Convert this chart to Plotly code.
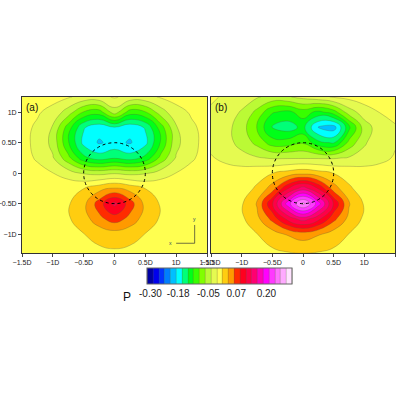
import plotly.graph_objects as go

x_vals = [-1.5, -1.25, -1.0, -0.75, -0.5, -0.25, 0.0, 0.25, 0.5, 0.75, 1.0, 1.25, 1.5]
y_vals = [1.25, 1.0, 0.75, 0.5, 0.25, 0.0, -0.25, -0.5, -0.75, -1.0, -1.32]

p_a = [
    [0, 0, -0.005, -0.01, -0.02, -0.02, -0.01, -0.02, -0.02, -0.01, -0.005, 0, 0],
    [-0.004, -0.01, -0.02, -0.05, -0.09, -0.1, -0.05, -0.1, -0.09, -0.05, -0.02, -0.01, -0.004],
    [-0.006, -0.016, -0.04, -0.1, -0.16, -0.18, -0.165, -0.18, -0.16, -0.1, -0.04, -0.016, -0.006],
    [-0.006, -0.018, -0.045, -0.11, -0.17, -0.19, -0.18, -0.19, -0.17, -0.11, -0.045, -0.018, -0.006],
    [-0.005, -0.015, -0.035, -0.08, -0.13, -0.15, -0.14, -0.15, -0.13, -0.08, -0.035, -0.015, -0.005],
    [-0.002, -0.006, -0.012, -0.025, -0.04, -0.045, -0.04, -0.045, -0.04, -0.025, -0.012, -0.006, -0.002],
    [0, 0.001, 0.003, 0.006, 0.012, 0.028, 0.04, 0.028, 0.012, 0.006, 0.003, 0.001, 0],
    [0, 0.002, 0.004, 0.01, 0.03, 0.075, 0.12, 0.075, 0.03, 0.01, 0.004, 0.002, 0],
    [0, 0.002, 0.004, 0.01, 0.025, 0.055, 0.075, 0.055, 0.025, 0.01, 0.004, 0.002, 0],
    [0, 0.001, 0.003, 0.006, 0.012, 0.02, 0.026, 0.02, 0.012, 0.006, 0.003, 0.001, 0],
    [0, 0, 0.002, 0.003, 0.005, 0.007, 0.008, 0.007, 0.005, 0.003, 0.002, 0, 0],
]

p_b = [
    [-0.01, -0.015, -0.025, -0.035, -0.045, -0.04, -0.03, -0.02, -0.01, -0.005, 0, 0, 0],
    [-0.015, -0.025, -0.04, -0.07, -0.11, -0.12, -0.1, -0.12, -0.1, -0.05, -0.025, -0.012, -0.005],
    [-0.02, -0.03, -0.05, -0.09, -0.14, -0.15, -0.13, -0.19, -0.2, -0.12, -0.05, -0.025, -0.015],
    [-0.02, -0.03, -0.045, -0.07, -0.1, -0.1, -0.09, -0.13, -0.14, -0.08, -0.04, -0.025, -0.015],
    [-0.01, -0.02, -0.03, -0.035, -0.04, -0.04, -0.04, -0.04, -0.04, -0.035, -0.03, -0.02, -0.01],
    [0, 0, 0.002, 0.006, 0.012, 0.022, 0.03, 0.022, 0.012, 0.006, 0.002, 0, 0],
    [0, 0.002, 0.005, 0.015, 0.05, 0.11, 0.15, 0.11, 0.05, 0.015, 0.005, 0.002, 0],
    [0, 0.003, 0.01, 0.04, 0.11, 0.2, 0.27, 0.2, 0.11, 0.04, 0.01, 0.003, 0],
    [0, 0.003, 0.008, 0.03, 0.07, 0.12, 0.15, 0.12, 0.07, 0.03, 0.008, 0.003, 0],
    [0, 0.002, 0.005, 0.012, 0.025, 0.04, 0.05, 0.04, 0.025, 0.012, 0.005, 0.002, 0],
    [0, 0.001, 0.002, 0.004, 0.007, 0.01, 0.012, 0.01, 0.007, 0.004, 0.002, 0.001, 0],
]

x_ticks = [-1.5, -1.0, -0.5, 0, 0.5, 1.0, 1.5]
x_labels = ["\u22121.5D", "\u22121D", "\u22120.5D", "0", "0.5D", "1D", "1.5D"]
y_ticks = [1.0, 0.5, 0, -0.5, -1.0]
y_labels = ["1D", "0.5D", "0", "\u22120.5D", "\u22121D"]
cb_ticks = [-0.30, -0.18, -0.05, 0.07, 0.20]
cb_labels = ["-0.30", "-0.18", "-0.05", "0.07", "0.20"]

cscale = [
    [0.0, "#000080"], [0.07, "#0000ff"], [0.15, "#0090ff"], [0.22, "#00ffff"],
    [0.25, "#00ff90"], [0.31, "#00ff00"], [0.38, "#80ff00"], [0.44, "#d8f850"],
    [0.5, "#ffff50"], [0.55, "#ffc000"], [0.60, "#ff8000"], [0.63, "#ff0000"],
    [0.74, "#ff0070"], [0.82, "#ff00ff"], [1.0, "#ffffff"],
]
zmin, zmax = -0.3125, 0.3125
contours = dict(start=zmin, end=zmax, size=0.025, coloring="fill")

L, R, T, B = 20, 2, 20, 20
W, H = 400 - L - R, 400 - T - B
def px(xp):
    return (xp - L) / W
def py(yp):
    return 1 - (yp - T) / H

fig = go.Figure()
for i, (z, show) in enumerate([(p_a, True), (p_b, False)]):
    fig.add_trace(go.Contour(
        x=x_vals, y=y_vals, z=z, xaxis="x" if i == 0 else "x2", yaxis="y" if i == 0 else "y2",
        colorscale=cscale, zmin=zmin, zmax=zmax, contours=contours,
        line=dict(color="rgba(90,90,60,0.6)", width=0.5, smoothing=1.3),
        showscale=show,
        colorbar=dict(orientation="h", x=px(220), xanchor="center", y=py(282), yanchor="middle",
                      len=145, lenmode="pixels", thickness=16, thicknessmode="pixels",
                      tickvals=cb_ticks, ticktext=cb_labels, ticks="", tickangle=0,
                      outlinecolor="#666", outlinewidth=1, xpad=0, ypad=0,
                      tickfont=dict(size=10, family="Liberation Sans", color="#222")),
    ))

ax = dict(range=[-1.5, 1.5], tickvals=x_ticks, ticktext=x_labels, ticks="outside", ticklen=3,
          showgrid=False, zeroline=False, showline=True, mirror=True, linecolor="#333", linewidth=1,
          tickfont=dict(size=7, family="Liberation Sans", color="#222"))
ay = dict(range=[-1.31, 1.25], showgrid=False, zeroline=False, showline=True, mirror=True,
          linecolor="#333", linewidth=1, tickfont=dict(size=7, family="Liberation Sans", color="#222"))
fig.update_layout(
    width=400, height=400, margin=dict(l=L, r=R, t=T, b=B, autoexpand=False),
    paper_bgcolor="white", plot_bgcolor="#ffff50", showlegend=False,
    xaxis=dict(ax, domain=[px(22), px(207)], anchor="y"),
    xaxis2=dict(ax, domain=[px(211), px(395)], anchor="y2"),
    yaxis=dict(ay, domain=[py(253), py(97)], anchor="x", tickvals=y_ticks, ticktext=y_labels,
               ticks="outside", ticklen=3),
    yaxis2=dict(ay, domain=[py(253), py(97)], anchor="x2", showticklabels=False),
)
for xr, yr in [("x", "y"), ("x2", "y2")]:
    fig.add_shape(type="circle", xref=xr, yref=yr, x0=-0.5, x1=0.5, y0=-0.5, y1=0.5,
                  line=dict(color="black", width=1, dash="dot"))
fig.add_shape(type="line", xref="x", yref="y", x0=1.0, x1=1.3, y0=-1.15, y1=-1.15, line=dict(color="#333", width=0.7))
fig.add_shape(type="line", xref="x", yref="y", x0=1.3, x1=1.3, y0=-1.15, y1=-0.85, line=dict(color="#333", width=0.7))
fig.add_annotation(xref="x", yref="y", x=0.97, y=-1.15, text="x", showarrow=False, font=dict(size=5), xanchor="right")
fig.add_annotation(xref="x", yref="y", x=1.3, y=-0.83, text="y", showarrow=False, font=dict(size=5), yanchor="bottom")
fig.add_annotation(xref="x", yref="y", x=-1.47, y=1.2, text="(a)", showarrow=False, xanchor="left", yanchor="top",
                   font=dict(size=10, family="Liberation Sans", color="#111"))
fig.add_annotation(xref="x2", yref="y2", x=-1.47, y=1.2, text="(b)", showarrow=False, xanchor="left", yanchor="top",
                   font=dict(size=10, family="Liberation Sans", color="#111"))
fig.add_annotation(xref="paper", yref="paper", x=px(127), y=py(297), text="P", showarrow=False,
                   yanchor="middle", xanchor="center", font=dict(size=12, family="Liberation Sans", color="#111"))
fig.write_html("out.html", config={"displayModeBar": False},
               post_script="document.body.style.margin='0';")
